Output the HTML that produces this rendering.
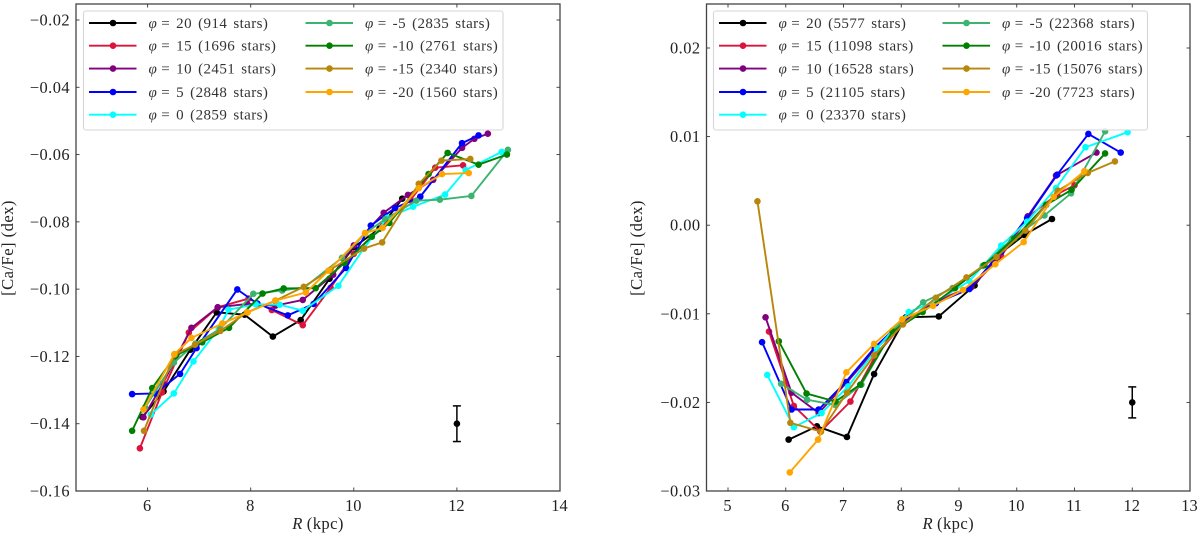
<!DOCTYPE html>
<html lang="en">
<head>
<meta charset="utf-8">
<title>[Ca/Fe] versus R for azimuth bins</title>
<style>
html,body{margin:0;padding:0;background:#fff;width:1200px;height:536px;overflow:hidden}
svg{display:block;font-family:"Liberation Serif",serif;filter:blur(0.3px)}
.tick{font-size:16.4px;fill:#222}
.axis-title{font-size:16.6px;fill:#222}
.leg{font-size:15px;fill:#333;letter-spacing:.42px;word-spacing:1.9px}
</style>
</head>
<body>
<svg id="chart" width="1200" height="536" viewBox="0 0 1200 536" xmlns="http://www.w3.org/2000/svg"></svg>
<script>
const seriesColors = ["#000000","#dc143c","#800080","#0000ff","#00ffff","#3cb371","#008000","#b8860b","#ffa500"];
const phiNames = ["20","15","10","5","0","m5","m10","m15","m20"];

const leftLegend = ["= 20 (914 stars)","= 15 (1696 stars)","= 10 (2451 stars)","= 5 (2848 stars)","= 0 (2859 stars)","= -5 (2835 stars)","= -10 (2761 stars)","= -15 (2340 stars)","= -20 (1560 stars)"];
const rightLegend = ["= 20 (5577 stars)","= 15 (11098 stars)","= 10 (16528 stars)","= 5 (21105 stars)","= 0 (23370 stars)","= -5 (22368 stars)","= -10 (20016 stars)","= -15 (15076 stars)","= -20 (7723 stars)"];

const leftXTicks = [6,8,10,12,14];
const leftYTicks = [-0.16,-0.14,-0.12,-0.10,-0.08,-0.06,-0.04,-0.02];
const rightXTicks = [5,6,7,8,9,10,11,12,13];
const rightYTicks = [-0.03,-0.02,-0.01,0,0.01,0.02];

const leftR = [
 [5.9,6.31,6.83,7.34,7.88,8.43,8.97,9.53,10.0,10.5,10.94],
 [5.85,6.28,6.8,7.36,7.96,8.41,9.01,9.55,10.0,10.56,11.1,11.58,12.12],
 [5.92,6.3,6.85,7.36,7.93,8.48,9.01,9.6,10.0,10.58,11.05,11.54,12.1,12.34,12.6],
 [5.7,6.15,6.63,6.95,7.74,8.13,8.72,9.22,9.85,10.33,10.8,11.29,12.1,12.42],
 [6.06,6.51,6.89,7.38,7.57,8.1,8.56,9.01,9.7,10.19,10.65,11.15,11.77,12.17,12.87],
 [5.95,6.51,6.93,7.41,8.05,8.61,9.04,9.77,10.22,10.61,11.21,11.67,12.28,12.99],
 [5.7,6.09,6.54,7.06,7.58,8.23,8.64,9.26,9.82,10.35,10.69,11.45,11.82,12.42,12.97],
 [5.93,6.52,6.92,7.41,7.93,8.48,9.03,9.55,10.2,10.55,11.26,11.7,12.26],
 [5.92,6.52,6.85,7.45,7.94,8.48,9.07,9.51,10.22,10.56,11.26,11.71,12.23]
];
const leftV = [
 [-0.138,-0.1304,-0.118,-0.1069,-0.1076,-0.1141,-0.1092,-0.0969,-0.0875,-0.082,-0.0731],
 [-0.1473,-0.1307,-0.1129,-0.1054,-0.1028,-0.1062,-0.1107,-0.0996,-0.0895,-0.0812,-0.0735,-0.0639,-0.0632],
 [-0.1381,-0.128,-0.1115,-0.1054,-0.1044,-0.1049,-0.1032,-0.0957,-0.087,-0.0773,-0.072,-0.0675,-0.058,-0.0553,-0.0538],
 [-0.1312,-0.131,-0.1252,-0.1175,-0.1001,-0.1043,-0.1078,-0.1044,-0.0937,-0.0811,-0.0759,-0.0725,-0.0566,-0.0543],
 [-0.1373,-0.131,-0.1215,-0.1118,-0.1061,-0.1045,-0.1046,-0.1064,-0.099,-0.088,-0.0788,-0.0755,-0.0719,-0.0646,-0.0592],
 [-0.1352,-0.1218,-0.1162,-0.1118,-0.1014,-0.1004,-0.0995,-0.0907,-0.0834,-0.0792,-0.0737,-0.0734,-0.0723,-0.0586],
 [-0.1421,-0.1294,-0.1198,-0.1158,-0.1115,-0.1013,-0.0998,-0.0997,-0.0922,-0.0844,-0.0803,-0.0658,-0.0595,-0.063,-0.06],
 [-0.1421,-0.1195,-0.1165,-0.1124,-0.1069,-0.1034,-0.0993,-0.0942,-0.0879,-0.0861,-0.0687,-0.0618,-0.0613],
 [-0.1358,-0.1193,-0.1145,-0.1102,-0.1069,-0.1034,-0.101,-0.0945,-0.0833,-0.0818,-0.07,-0.0658,-0.0655]
];

const rightR = [
 [6.05,6.54,7.06,7.53,8.08,8.65,9.27,9.65,10.13,10.61],
 [5.71,6.14,6.6,7.12,7.54,8.03,8.6,9.21,9.73,10.19,10.7,11.0],
 [5.65,6.1,6.57,7.05,7.54,8.03,8.6,9.21,9.67,10.19,10.68,11.38],
 [5.59,6.1,6.57,7.04,7.54,8.03,8.6,9.18,9.73,10.18,10.7,11.24,11.8],
 [5.68,6.14,6.62,7.08,7.58,8.13,8.6,9.18,9.73,10.18,10.68,11.19,11.92],
 [5.92,6.37,6.86,7.31,7.85,8.38,8.89,9.41,9.93,10.48,10.94,11.53],
 [5.88,6.36,6.86,7.29,7.85,8.37,8.93,9.44,9.96,10.51,10.95,11.53],
 [5.51,6.08,6.61,7.06,7.53,8.03,8.6,9.13,9.65,10.15,10.71,11.23,11.7],
 [6.07,6.56,7.05,7.53,8.02,8.55,9.07,9.63,10.12,10.64,11.17]
];
const rightV = [
 [-0.0242,-0.0227,-0.0239,-0.0168,-0.0104,-0.0103,-0.0068,-0.0035,-0.0011,0.0007],
 [-0.012,-0.0204,-0.0233,-0.0199,-0.0149,-0.0111,-0.0085,-0.007,-0.0035,0.0009,0.0035,0.0045],
 [-0.0104,-0.0189,-0.0212,-0.0178,-0.0141,-0.0109,-0.0087,-0.007,-0.0036,0.001,0.0056,0.0082],
 [-0.0132,-0.0208,-0.0208,-0.0177,-0.0138,-0.0108,-0.0088,-0.0072,-0.003,0.0008,0.0057,0.0103,0.0082],
 [-0.0169,-0.0228,-0.0212,-0.0182,-0.0139,-0.0098,-0.0086,-0.0063,-0.0023,0.0004,0.0042,0.0088,0.0105],
 [-0.0179,-0.0197,-0.0203,-0.018,-0.0119,-0.0087,-0.0071,-0.0046,-0.0015,0.0011,0.0036,0.0106],
 [-0.0131,-0.019,-0.0199,-0.018,-0.012,-0.0098,-0.0071,-0.0045,-0.0015,0.0023,0.004,0.0081],
 [0.0027,-0.0223,-0.0233,-0.0189,-0.0147,-0.0112,-0.0082,-0.0059,-0.0036,-0.0006,0.0039,0.0059,0.0072],
 [-0.0279,-0.0242,-0.0166,-0.0134,-0.0106,-0.0091,-0.0073,-0.0044,-0.0019,0.0032,0.0061]
];

const leftErrorBar = {r:12, v:-0.14, err:0.0053};
const rightErrorBar = {r:12, v:-0.02, err:0.00175};

const NS = "http://www.w3.org/2000/svg";
const root = document.getElementById("chart");

function mk(parent, tag, attrs, txt){
  const el = document.createElementNS(NS, tag);
  for (const k in attrs) el.setAttribute(k, attrs[k]);
  if (txt !== undefined) el.textContent = txt;
  parent.appendChild(el);
  return el;
}

function fmtTick(v, d){
  const s = Math.abs(v).toFixed(d);
  return v < 0 ? "\u2212" + s : s;
}

function drawPanel(cfg){
  const g = mk(root, "g", {});
  
  
  const X = cfg.x, Y = cfg.y;

  const series = mk(g, "g", {});
  
  
  cfg.R.forEach(function(rs, i){
    const vs = cfg.V[i];
    const sg = mk(series, "g", {});
    
    
    const pts = rs.map(function(r, j){ return X(r).toFixed(2) + "," + Y(vs[j]).toFixed(2); }).join(" ");
    mk(sg, "polyline", {points:pts, fill:"none", stroke:seriesColors[i], "stroke-width":1.9, "stroke-linejoin":"round"});
    rs.forEach(function(r, j){
      const c = mk(sg, "circle", {cx:X(r), cy:Y(vs[j]), r:3.3, fill:seriesColors[i]});
      
      
    });
  });

  const e = cfg.err;
  const eg = mk(g, "g", {stroke:"#000", "stroke-width":1.5, fill:"none"});
  
  
  const ex = X(e.r), et = Y(e.v + e.err), eb = Y(e.v - e.err);
  mk(eg, "line", {x1:ex, x2:ex, y1:et, y2:eb});
  mk(eg, "line", {x1:ex - 4, x2:ex + 4, y1:et, y2:et});
  mk(eg, "line", {x1:ex - 4, x2:ex + 4, y1:eb, y2:eb});
  mk(eg, "circle", {cx:ex, cy:Y(e.v), r:3.3, fill:"#000", stroke:"none"});

  const L = cfg.box;
  const lg = mk(g, "g", {});
  
  
  mk(lg, "rect", {x:L.x, y:L.y, width:L.w, height:L.h, rx:2.5, fill:"#fff", "fill-opacity":0.85, stroke:"#d6d6d6", "stroke-width":1.1});
  const rows = [23, 45.7, 68.6, 92, 114.7];
  cfg.legend.forEach(function(label, i){
    const col = i < 5 ? 0 : 1;
    const ry = rows[col === 0 ? i : i - 5];
    const x0 = L.cols[col];
    const en = mk(lg, "g", {});
    
    
    mk(en, "line", {x1:x0, x2:x0 + 47.5, y1:ry, y2:ry, stroke:seriesColors[i], "stroke-width":1.9});
    mk(en, "circle", {cx:x0 + 24, cy:ry, r:3.3, fill:seriesColors[i]});
    const t = mk(en, "text", {x:x0 + 59.5, y:ry + 4.8, "class":"leg"});
    mk(t, "tspan", {"font-style":"italic"}, "\u03c6");
    mk(t, "tspan", {dx:4}, label);
  });

  const tg = mk(g, "g", {});
  
  
  const F = cfg.frame;
  cfg.xTicks.forEach(function(t){
    const x = X(t);
    mk(tg, "line", {x1:x, x2:x, y1:F.b, y2:F.b - 3.5, stroke:"#333", "stroke-width":0.9});
    mk(tg, "line", {x1:x, x2:x, y1:F.t, y2:F.t + 3.5, stroke:"#333", "stroke-width":0.9});
    const lab = mk(tg, "text", {x:x - 0.5, y:F.b + 20, "text-anchor":"middle", "class":"tick"}, String(t));
    
    
  });
  cfg.yTicks.forEach(function(t){
    const y = Y(t);
    mk(tg, "line", {x1:F.l, x2:F.l + 3.5, y1:y, y2:y, stroke:"#333", "stroke-width":0.9});
    mk(tg, "line", {x1:F.r, x2:F.r - 3.5, y1:y, y2:y, stroke:"#333", "stroke-width":0.9});
    const lab = mk(tg, "text", {x:F.l - 6, y:y + 5.5, "text-anchor":"end", "class":"tick", "letter-spacing":"0.45"}, t === 0 ? "0.00" : fmtTick(t, 2));
    
    
  });
  mk(tg, "rect", {x:F.l, y:F.t, width:F.r - F.l, height:F.b - F.t, fill:"none", stroke:"#444", "stroke-width":1.3});

  const xt = mk(g, "text", {x:(F.l + F.r) / 2, y:529, "text-anchor":"middle", "class":"axis-title", "letter-spacing":"0.4"});
  
  
  mk(xt, "tspan", {"font-style":"italic"}, "R");
  mk(xt, "tspan", {dx:4}, "(kpc)");

  const yt = mk(g, "text", {transform:"translate(" + cfg.ylabX + ",248) rotate(-90)", "text-anchor":"middle", "class":"axis-title", "letter-spacing":"0.45"}, "[Ca/Fe] (dex)");
  
  
}

function scale(d0, p0, d1, p1){
  return function(v){ return p0 + (v - d0) * (p1 - p0) / (d1 - d0); };
}

drawPanel({
  name:"left",
  R:leftR, V:leftV, legend:leftLegend, xTicks:leftXTicks, yTicks:leftYTicks, err:leftErrorBar,
  x:scale(6, 147.6, 14, 560), y:scale(-0.16, 491, -0.02, 20),
  frame:{l:76, r:560, t:4, b:491},
  box:{x:83.5, y:11, w:419.5, h:119, cols:[89, 305.5]},
  ylabX:13
});
drawPanel({
  name:"right",
  R:rightR, V:rightV, legend:rightLegend, xTicks:rightXTicks, yTicks:rightYTicks, err:rightErrorBar,
  x:scale(5, 728, 13, 1190), y:scale(-0.03, 491, 0.02, 48),
  frame:{l:706.5, r:1190, t:4, b:491},
  box:{x:713.5, y:11, w:434, h:119, cols:[719, 942.5]},
  ylabX:642
});
</script>
</body>
</html>
